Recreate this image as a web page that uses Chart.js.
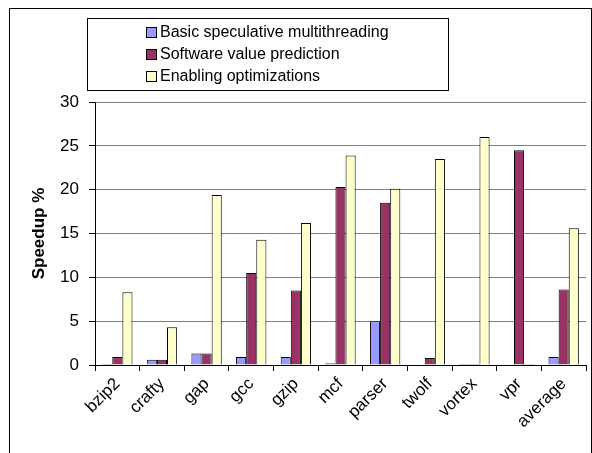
<!DOCTYPE html>
<html>
<head>
<meta charset="utf-8">
<script src="https://cdn.jsdelivr.net/npm/chart.js@4"></script>
<style>
    html, body { margin: 0; padding: 0; background: #fff; }
    #wrap { position: relative; width: 592px; height: 453px; overflow: hidden; }
    #frame { position: absolute; left: 9px; top: 8px; width: 583px; height: 460px; border: 1px solid #000; box-sizing: border-box; }
    canvas { position: absolute; left: 0; top: 0; }
</style>
</head>
<body>
<div id="wrap">
    <div id="frame"></div>
    <canvas id="speedupChart" width="592" height="453"></canvas>
</div>
<script>
const benchmarks = ['bzip2', 'crafty', 'gap', 'gcc', 'gzip', 'mcf', 'parser', 'twolf', 'vortex', 'vpr', 'average'];
const basicSmt = [0.1, 0.6, 1.3, 0.9, 0.9, 0.2, 5.0, 0, 0.1, 0, 0.9];
const valuePrediction = [0.9, 0.6, 1.3, 10.5, 8.5, 20.3, 18.5, 0.8, 0.1, 24.5, 8.6];
const enablingOpts = [8.3, 4.3, 19.4, 14.3, 16.2, 23.9, 20.1, 23.5, 26.0, 0.1, 15.6];
const yTicks = [0, 5, 10, 15, 20, 25, 30];

const FONT = 'Liberation Sans, Arial, sans-serif';

// boxed legend, one entry per row, like the Excel original
const boxedLegend = {
    id: 'boxedLegend',
    afterDraw(chart) {
        const ctx = chart.ctx;
        ctx.save();
        ctx.strokeStyle = '#000';
        ctx.lineWidth = 1;
        ctx.strokeRect(87.5, 18.5, 361, 72);
        ctx.font = '16px ' + FONT;
        ctx.textBaseline = 'middle';
        chart.data.datasets.forEach((ds, i) => {
            const y = 33 + i * 22;
            ctx.fillStyle = ds.backgroundColor;
            ctx.fillRect(146.5, y - 5.5, 10, 10);
            ctx.strokeStyle = '#000';
            ctx.strokeRect(146.5, y - 5.5, 10, 10);
            ctx.fillStyle = '#000';
            ctx.fillText(ds.label, 160, y);
        });
        ctx.restore();
    }
};

const chart = new Chart(document.getElementById('speedupChart'), {
    type: 'bar',
    data: {
        labels: benchmarks,
        datasets: [
            { label: 'Basic speculative multithreading', data: basicSmt, backgroundColor: '#9999FF' },
            { label: 'Software value prediction', data: valuePrediction, backgroundColor: '#993366' },
            { label: 'Enabling optimizations', data: enablingOpts, backgroundColor: '#FFFFCC' }
        ].map(d => Object.assign(d, { borderColor: '#000', borderWidth: 1, borderSkipped: 'bottom', barPercentage: 1.0, categoryPercentage: 0.68 }))
    },
    options: {
        responsive: false,
        animation: false,
        layout: { padding: { top: 102, right: 6, left: 29, bottom: 0 } },
        plugins: {
            legend: { display: false },
            tooltip: { enabled: false }
        },
        scales: {
            x: {
                grid: { display: true, offset: true, drawOnChartArea: false, color: '#000', tickLength: 6 },
                border: { color: '#000', width: 1 },
                ticks: { color: '#000', font: { family: FONT, size: 17 }, minRotation: 45, maxRotation: 45, padding: 3 },
                afterFit: s => { s.height = 88; }
            },
            y: {
                min: 0,
                max: 30,
                afterBuildTicks: s => { s.ticks = yTicks.map(v => ({ value: v })); },
                grid: { color: '#808080', tickColor: '#000', tickLength: 6 },
                border: { color: '#000', width: 1 },
                ticks: { color: '#000', font: { family: FONT, size: 17 }, padding: 10 },
                title: { display: true, text: 'Speedup %', color: '#000', font: { family: FONT, size: 17, weight: 'bold' }, padding: 0 },
                afterFit: s => { s.width = 66; }
            }
        }
    },
    plugins: [boxedLegend]
});
</script>
</body>
</html>
